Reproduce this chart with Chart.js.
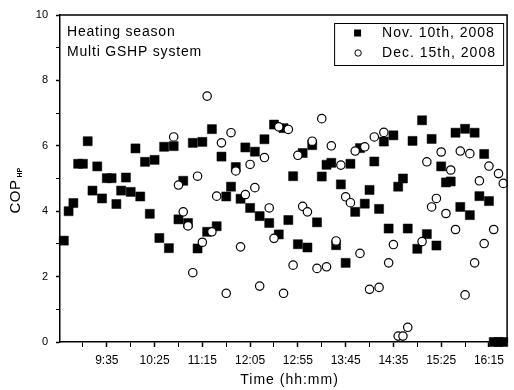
<!DOCTYPE html>
<html><head><meta charset="utf-8">
<script src="https://cdn.jsdelivr.net/npm/chart.js@4.4.0/dist/chart.umd.min.js"></script>
<style>html,body{margin:0;padding:0;background:#fff}#wrap{width:514px;height:390px;position:relative}canvas{display:block}</style>
</head><body><div id="wrap"><canvas id="c" width="514" height="390" style="width:514px;height:390px"></canvas></div>
<script>
// ---- data ----
const times = [
 '8:50','8:55','9:00','9:05','9:10','9:15','9:20','9:25','9:30','9:35',
 '9:40','9:45','9:50','9:55','10:00','10:05','10:10','10:15','10:20','10:25',
 '10:30','10:35','10:40','10:45','10:50','10:55','11:00','11:05','11:10','11:15',
 '11:20','11:25','11:30','11:35','11:40','11:45','11:50','11:55','12:00','12:05',
 '12:10','12:15','12:20','12:25','12:30','12:35','12:40','12:45','12:50','12:55',
 '13:00','13:05','13:10','13:15','13:20','13:25','13:30','13:35','13:40','13:45',
 '13:50','13:55','14:00','14:05','14:10','14:15','14:20','14:25','14:30','14:35',
 '14:40','14:45','14:50','14:55','15:00','15:05','15:10','15:15','15:20','15:25',
 '15:30','15:35','15:40','15:45','15:50','15:55','16:00','16:05','16:10','16:15',
 '16:20','16:25','16:30'];
const nov10 = [
 3.1,4.0,4.25,5.45,5.45,6.14,4.63,5.37,4.39,5.01,
 5.01,4.22,4.63,5.03,4.59,5.92,4.45,5.51,3.92,5.57,
 3.18,5.97,2.87,5.99,3.75,4.93,3.64,6.09,2.86,6.12,
 3.37,6.51,3.54,5.67,4.45,4.75,5.35,4.38,5.95,4.1,
 5.82,3.85,6.2,3.64,6.65,3.29,6.54,3.73,5.07,2.99,
 5.78,2.89,6.02,3.66,5.06,5.42,5.48,2.96,4.82,2.42,
 5.45,3.98,5.93,4.23,4.65,5.52,4.07,6.13,3.47,6.32,
 4.75,5.0,3.47,6.15,2.85,6.78,3.3,6.21,2.95,5.37,
 4.88,4.91,6.4,4.13,6.52,3.88,6.4,4.46,5.75,4.31,
 0,0,0];
const dec15 = [
 null,null,null,null,null,null,null,null,null,null,
 null,null,null,null,null,null,null,null,null,null,
 null,null,null,6.27,4.8,3.98,3.55,2.12,5.07,3.05,
 7.52,3.37,4.46,6.09,1.49,6.4,5.23,2.91,4.51,5.43,
 4.72,1.71,5.64,4.1,3.17,6.58,1.49,6.5,2.35,5.71,
 4.15,3.98,6.14,2.25,6.83,2.3,6.0,3.09,5.41,4.44,
 4.26,5.84,2.71,5.97,1.61,6.27,1.67,6.41,2.42,2.98,
 0.18,0.18,0.45,null,null,3.07,5.51,4.13,4.39,5.81,
 3.93,5.26,3.44,5.84,1.44,5.76,2.42,4.93,3.01,5.38,
 3.44,5.15,4.85];
const xTickLabels = ['9:35','10:25','11:15','12:05','12:55','13:45','14:35','15:25','16:15'];
const yTickLabels = [0,2,4,6,8,10];
const seriesNames = ['Nov. 10th, 2008','Dec. 15th, 2008'];
const noteLines = ['Heating season','Multi GSHP system'];
const xTitle = 'Time (hh:mm)';
const yTitle = 'COP';
const yTitleSub = 'HP';
const xRange = ['8:46','16:34'];
const yRange = [0,10];

// ---- helpers ----
const FONT = '"Liberation Sans", Arial, sans-serif';
const toMin = s => { const p = s.split(':').map(Number); return p[0]*60 + p[1]; };
const fmt = v => Math.floor(v/60) + ':' + String(v%60).padStart(2,'0');
const majorX = xTickLabels.map(toMin);
const xTicks = [];
majorX.forEach(m => { xTicks.push(m - 25, m); });
const pts = arr => times.map((t,i) => ({x: toMin(t), y: arr[i]})).filter(p => p.y !== null);

const decoPlugin = {
  id: 'deco',
  afterDraw(chart) {
    const ctx = chart.ctx, a = chart.chartArea;
    ctx.save();
    ctx.strokeStyle = '#000'; ctx.lineWidth = 1.5;
    ctx.beginPath();
    ctx.moveTo(a.left, a.top); ctx.lineTo(a.right, a.top); ctx.lineTo(a.right, a.bottom);
    ctx.stroke();
    ctx.fillStyle = '#000';
    ctx.font = '14px ' + FONT;
    ctx.letterSpacing = '0.8px';
    ctx.textBaseline = 'middle'; ctx.textAlign = 'left';
    ctx.fillText(noteLines[0], a.left + 7, a.top + 17);
    ctx.fillText(noteLines[1], a.left + 7, a.top + 37);
    const lx = a.right - 173, ly = a.top + 8, lw = 169, lh = 42;
    ctx.lineWidth = 1;
    ctx.strokeRect(lx + 0.5, ly + 0.5, lw, lh);
    ctx.fillRect(lx + 20, ly + 6.5, 7, 7);
    ctx.beginPath(); ctx.arc(lx + 24, ly + 30, 3.2, 0, Math.PI*2); ctx.stroke();
    ctx.letterSpacing = '1px';
    ctx.fillText(seriesNames[0], lx + 48, ly + 10.5);
    ctx.fillText(seriesNames[1], lx + 48, ly + 30.5);
    ctx.textAlign = 'center';
    ctx.font = '14px ' + FONT;
    ctx.fillText(xTitle, (a.left + a.right)/2 + 6, 380);
    ctx.translate(20, (a.top + a.bottom)/2 + 18);
    ctx.rotate(-Math.PI/2);
    ctx.textBaseline = 'alphabetic';
    ctx.letterSpacing = '0.5px';
    ctx.font = '15px ' + FONT;
    ctx.fillText(yTitle, 0, 0);
    ctx.textAlign = 'left';
    ctx.font = 'bold 7px ' + FONT;
    ctx.letterSpacing = '0px';
    ctx.fillText(yTitleSub, 19, 2);
    ctx.restore();
  }
};

new Chart(document.getElementById('c'), {
  type: 'scatter',
  data: {
    datasets: [
      { label: seriesNames[1], data: pts(dec15), pointStyle: 'circle', pointRadius: 4.2,
        backgroundColor: '#fff', borderColor: '#000', borderWidth: 1.2, order: 1, clip: false },
      { label: seriesNames[0], data: pts(nov10), pointStyle: 'rect', pointRadius: 6.4,
        backgroundColor: '#000', borderColor: '#000', borderWidth: 0.5, order: 2, clip: false }
    ]
  },
  options: {
    responsive: false, maintainAspectRatio: false, animation: false, devicePixelRatio: 1,
    layout: { padding: { left: 0, right: 2, top: 15, bottom: 0 } },
    plugins: { legend: { display: false }, tooltip: { enabled: false }, title: { display: false } },
    scales: {
      x: {
        type: 'linear', min: toMin(xRange[0]), max: toMin(xRange[1]),
        afterBuildTicks: s => { s.ticks = xTicks.map(v => ({ value: v })); },
        afterFit: s => { s.height = 48; },
        ticks: { autoSkip: false, maxRotation: 0, minRotation: 0, padding: 6, color: '#000',
                 font: { size: 12, family: FONT },
                 callback: v => majorX.includes(v) ? fmt(v) : '' },
        grid: { drawOnChartArea: false, drawTicks: true, tickLength: 5, tickColor: '#000',
                tickWidth: c => (c.tick && majorX.includes(c.tick.value)) ? 1.5 : 1 },
        border: { display: true, color: '#000', width: 1.5 }
      },
      y: {
        type: 'linear', min: yRange[0], max: yRange[1],
        afterBuildTicks: s => { const t = []; for (let v = yRange[0]; v <= yRange[1]; v++) t.push({ value: v }); s.ticks = t; },
        afterFit: s => { s.width = 60; },
        ticks: { padding: 8, color: '#000', font: { size: 11, family: FONT },
                 callback: v => yTickLabels.includes(v) ? String(v) : '' },
        grid: { drawOnChartArea: false, drawTicks: true, tickLength: 4, tickColor: '#000',
                tickWidth: c => (c.tick && yTickLabels.includes(c.tick.value)) ? 1.5 : 1 },
        border: { display: true, color: '#000', width: 1.5 }
      }
    }
  },
  plugins: [decoPlugin]
});
</script></body></html>
